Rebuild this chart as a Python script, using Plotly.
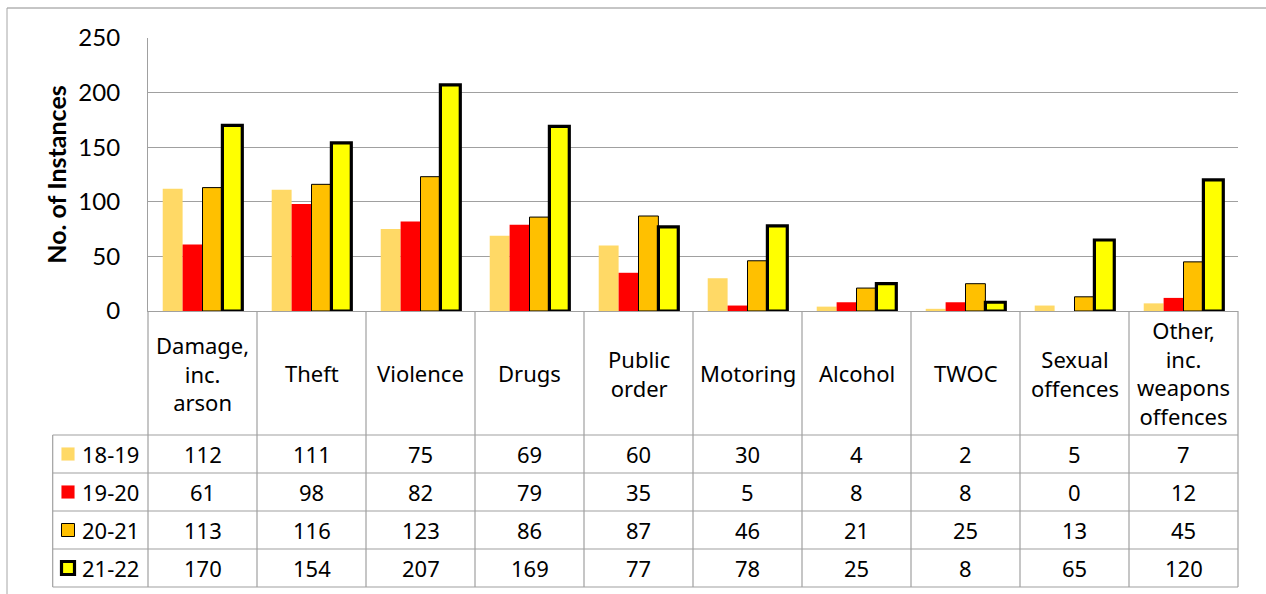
import plotly.graph_objects as go

# Offence categories and yearly counts
categories = ["Damage,<br>inc.<br>arson", "Theft", "Violence", "Drugs", "Public<br>order",
              "Motoring", "Alcohol", "TWOC", "Sexual<br>offences",
              "Other,<br>inc.<br>weapons<br>offences"]
series_names = ["18-19", "19-20", "20-21", "21-22"]
y18_19 = [112, 111, 75, 69, 60, 30, 4, 2, 5, 7]
y19_20 = [61, 98, 82, 79, 35, 5, 8, 8, 0, 12]
y20_21 = [113, 116, 123, 86, 87, 46, 21, 25, 13, 45]
y21_22 = [170, 154, 207, 169, 77, 78, 25, 8, 65, 120]
y_ticks = [0, 50, 100, 150, 200, 250]

series_values = [y18_19, y19_20, y20_21, y21_22]
fills = ["#FFD966", "#FF0000", "#FFC000", "#FFFF00"]
outline_w = [0, 0, 1, 3.2]

W, H = 1266, 594
L, R, T, B = 148, 28, 38, 283
PW, PH = W - L - R, H - T - B
GRID = "#A0A0A0"
TXT_FONT = "Noto Sans"
N = len(categories)


def px(xp):
    return (xp - L) / PW


def py(yp):
    return (T + PH - yp) / PH


fig = go.Figure()
for name, vals, col, lw in zip(series_names, series_values, fills, outline_w):
    fig.add_trace(go.Bar(
        x=list(range(N)), y=vals, name=name,
        marker=dict(color=col, line=dict(color="black", width=lw)),
        showlegend=False,
    ))

# Data table geometry (pixels)
label_top = T + PH            # bottom of plot area
table_top = 435
row_h = 38
table_left = 52.7
table_bottom = table_top + row_h * len(series_names)

shapes = []
line_style = dict(color=GRID, width=1.2)
# horizontal rules
for r in range(len(series_names) + 1):
    yy = py(table_top + r * row_h)
    shapes.append(dict(type="line", xref="paper", yref="paper",
                       x0=px(table_left), x1=1, y0=yy, y1=yy, line=line_style))
# vertical rules between categories
for k in range(N + 1):
    shapes.append(dict(type="line", xref="paper", yref="paper",
                       x0=k / N, x1=k / N, y0=py(label_top), y1=py(table_bottom),
                       line=line_style))
shapes.append(dict(type="line", xref="paper", yref="paper",
                   x0=px(table_left), x1=px(table_left),
                   y0=py(table_top), y1=py(table_bottom), line=line_style))
# outer chart border (top and left edges)
shapes.append(dict(type="line", xref="paper", yref="paper",
                   x0=px(7), x1=px(W + 2), y0=py(8), y1=py(8),
                   line=dict(color="#8C8C8C", width=1)))
shapes.append(dict(type="line", xref="paper", yref="paper",
                   x0=px(7), x1=px(7), y0=py(8), y1=py(H + 2),
                   line=dict(color="#A6A6A6", width=1)))

annotations = []
# category labels under the axis
for k, cat in enumerate(categories):
    annotations.append(dict(x=(k + 0.5) / N, y=py((label_top + table_top) / 2),
                            xref="paper", yref="paper", text=cat, showarrow=False,
                            align="center", xanchor="center", yanchor="middle",
                            font=dict(family=TXT_FONT, size=22, color="black")))
# table rows with legend keys
for r, (name, vals, col, lw) in enumerate(zip(series_names, series_values, fills, outline_w)):
    yc = table_top + r * row_h + row_h / 2
    for k, v in enumerate(vals):
        annotations.append(dict(x=(k + 0.5) / N, y=py(yc), xref="paper", yref="paper",
                                text=str(v), showarrow=False, xanchor="center",
                                yanchor="middle",
                                font=dict(family=TXT_FONT, size=22, color="black")))
    annotations.append(dict(x=px(80), y=py(yc), xref="paper", yref="paper",
                            text=name, showarrow=False, xanchor="left", yanchor="middle",
                            font=dict(family=TXT_FONT, size=22, color="black")))
    half = 6.5
    shapes.append(dict(type="rect", xref="paper", yref="paper",
                       x0=px(68 - half), x1=px(68 + half),
                       y0=py(yc - half), y1=py(yc + half),
                       fillcolor=col,
                       line=dict(color="black" if lw else col, width=max(lw, 0.1))))

fig.update_layout(
    width=W, height=H,
    margin=dict(l=L, r=R, t=T, b=B, pad=0),
    paper_bgcolor="white", plot_bgcolor="white",
    barmode="group", bargap=0.27, bargroupgap=0,
    shapes=shapes, annotations=annotations,
    xaxis=dict(range=[-0.5, N - 0.5], showticklabels=False, showgrid=False,
               zeroline=False, showline=True, linecolor=GRID, linewidth=1.2,
               ticks="", layer="below traces", fixedrange=True),
    yaxis=dict(range=[0, 250], tickvals=y_ticks, showgrid=True, gridcolor=GRID,
               gridwidth=1.2, zeroline=False, showline=True, linecolor=GRID,
               linewidth=1.2, ticks="", ticklabelstandoff=22,
               tickfont=dict(family="Lato", size=24, color="black"),
               title=dict(text="<b>No. of Instances</b>", standoff=4,
                          font=dict(family="Lato", size=25, color="black")),
               layer="below traces", fixedrange=True),
)

fig.write_html("out.html")
